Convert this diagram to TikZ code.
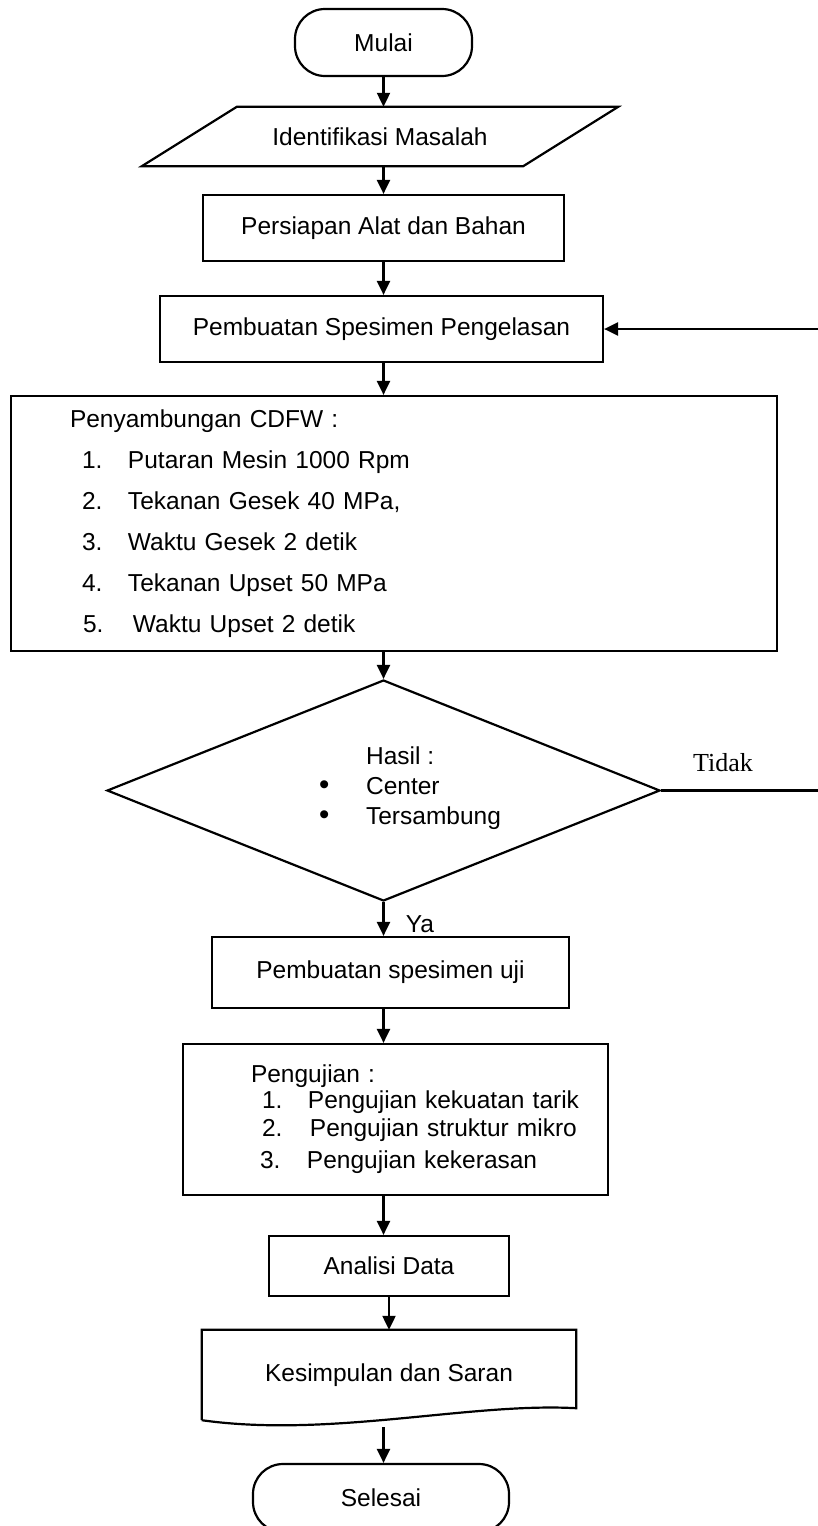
\documentclass[tikz,border=0pt]{standalone}
\usepackage{fontspec}
\usepackage{graphicx}
\setmainfont{Liberation Sans}
\newfontfamily\serifont{Liberation Serif}
\usetikzlibrary{arrows.meta,shapes.geometric}
\newcommand{\butir}[3]{\makebox[#2][l]{\hspace*{#1}#3}}
\newcommand{\titik}{\makebox[47pt][l]{\scalebox{1.2}{\textbullet}}}

\begin{document}
\begin{tikzpicture}[x=1pt,y=-1pt,
    line/.style={line width=2.2pt},
    arr/.style={line width=2.2pt,-{Triangle[length=14pt,width=13pt]}},
    box/.style={draw,rectangle,line width=2.2pt,inner sep=0pt},
    term/.style={draw,rectangle,rounded corners=30pt,line width=2.2pt,inner sep=0pt},
    every node/.style={font=\fontsize{24.5}{29}\selectfont}]
\useasboundingbox (0,0) rectangle (818,1526);

\node[term,minimum width=177pt,minimum height=67pt] (mulai) at (383.5,42.5) {Mulai};
\node[minimum width=381pt,minimum height=59pt,inner sep=0pt] (masalah) at (380,136.5) {Identifikasi Masalah};
\draw[line] ([xshift=47.5pt]masalah.north west) -- ([xshift=47.5pt]masalah.north east)
  -- ([xshift=-47.5pt]masalah.south east) -- ([xshift=-47.5pt]masalah.south west) -- cycle;
\node[box,minimum width=361pt,minimum height=66pt] (persiapan) at (383.5,228) {Persiapan Alat dan Bahan};
\node[box,minimum width=443pt,minimum height=66pt] (pengelasan) at (381.5,329) {Pembuatan Spesimen Pengelasan};
\node[box,minimum width=766pt,minimum height=255pt,text width=648pt,inner xsep=59pt,inner ysep=0pt,
  align=left,font=\fontsize{24.5}{41}\selectfont] (cdfw) at (394,523.5) {Penyambungan CDFW :\\
  \butir{12pt}{58pt}{1.}Putaran Mesin 1000 Rpm\\
  \butir{12pt}{58pt}{2.}Tekanan Gesek 40 MPa,\\
  \butir{12pt}{58pt}{3.}Waktu Gesek 2 detik\\
  \butir{12pt}{58pt}{4.}Tekanan Upset 50 MPa\\
  \butir{13pt}{63pt}{5.}Waktu Upset 2 detik};

\node[draw,diamond,line width=2.2pt,minimum width=553pt,minimum height=221pt,inner sep=0pt] (hasil) at (383.5,790.5) {};
\node[align=left,inner sep=0pt,font=\fontsize{24.5}{30}\selectfont] (hasiltxt) at (410,788) {\hspace*{47pt}Hasil :\\
  \titik Center\\
  \titik Tersambung};
\node[font=\serifont\fontsize{26}{30}\selectfont] (tidak) at (723,763) {Tidak};
\node (ya) at (420,924) {Ya};

\node[box,minimum width=357pt,minimum height=71pt] (uji) at (390.5,972.5) {Pembuatan spesimen uji};
\node[box,minimum width=425pt,minimum height=151pt,text width=385pt,inner xsep=20pt,inner ysep=0pt,
  align=left,font=\fontsize{24.5}{26}\selectfont] (pengujian) at (395.5,1119.5) {\hspace*{48pt}Pengujian :\\
  \butir{59pt}{105pt}{1.}Pengujian kekuatan tarik\\[2pt]
  \butir{59pt}{107pt}{2.}Pengujian struktur mikro\\[6pt]
  \butir{57pt}{104pt}{3.}Pengujian kekerasan};
\node[box,minimum width=240pt,minimum height=60pt] (analisis) at (389,1266) {Analisi Data};
\node[minimum width=374pt,minimum height=90pt,inner sep=0pt] (saran) at (389,1375) {Kesimpulan dan Saran};
\draw[line] (saran.south west) -- (saran.north west) -- (saran.north east) -- ([yshift=12pt]saran.south east)
  .. controls ([xshift=-106pt,yshift=18pt]saran.south east) and ([xshift=128pt,yshift=-18pt]saran.south west) .. (saran.south west);
\node[term,minimum width=256pt,minimum height=68pt] (selesai) at (381,1498) {Selesai};

\draw[arr] (mulai.south) -- (mulai.south |- masalah.north);
\draw[arr] (masalah.south -| mulai.south) -- (persiapan.north -| mulai.south);
\draw[arr] (persiapan.south -| mulai.south) -- (pengelasan.north -| mulai.south);
\draw[arr] (pengelasan.south -| mulai.south) -- (cdfw.north -| mulai.south);
\draw[arr] (cdfw.south -| hasil.north) -- (hasil.north);
\draw[arr] (hasil.south) -- (hasil.south |- uji.north);
\draw[arr] (uji.south -| mulai.south) -- (pengujian.north -| mulai.south);
\draw[arr] (pengujian.south -| mulai.south) -- (analisis.north -| mulai.south);
\draw[arr] (analisis.south) -- (analisis.south |- saran.north);
\draw[arr] ([yshift=-7pt]saran.south -| mulai.south) -- (selesai.north -| mulai.south);
\draw[arr] (hasil.east) -- ++(160,0) |- (pengelasan.east);
\end{tikzpicture}
\end{document}
